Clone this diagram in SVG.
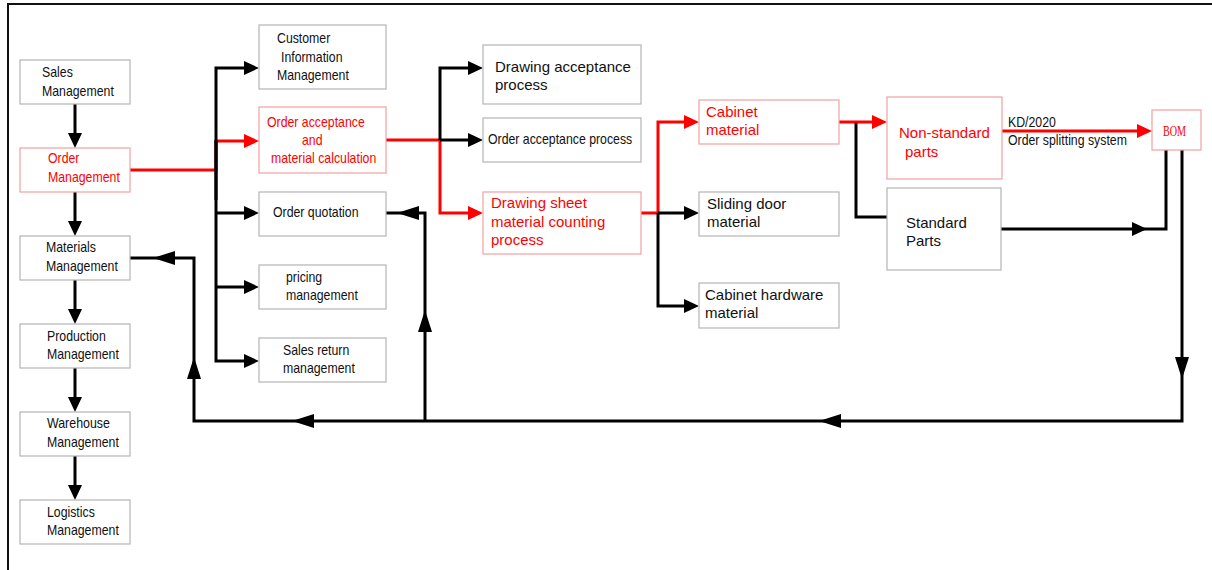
<svg xmlns="http://www.w3.org/2000/svg" width="1212" height="570" viewBox="0 0 1212 570">
<style>
  .box { fill: #ffffff; stroke: #b4b4b4; stroke-width: 1.2; }
  .rbox { fill: #ffffff; stroke: #f2a0a0; stroke-width: 1.2; }
  .c { font-family: "Liberation Sans", Arial, sans-serif; font-size: 14.5px; fill: #111; }
  .r { font-family: "Liberation Sans", Arial, sans-serif; font-size: 15px; fill: #111; }
  .red { fill: #ff0000; }
  .bom { font-family: "Liberation Serif", "Times New Roman", serif; font-size: 15px; fill: #ff0000; }
  .bl { fill: none; stroke: #000; stroke-width: 3; stroke-linejoin: miter; }
  .rl { fill: none; stroke: #ff0000; stroke-width: 3; stroke-linejoin: miter; }
  .fa { marker-end: url(#arrowK); }
  .fr { marker-end: url(#arrowR); }
  .fb { marker-end: url(#arrowB); }
</style>
<defs>
  <marker id="arrowK" markerUnits="userSpaceOnUse" markerWidth="15" markerHeight="14" refX="11" refY="7" orient="auto" viewBox="0 0 15 14">
    <path d="M0,0 L15,7 L0,14 z" fill="#000"/>
  </marker>
  <marker id="arrowR" markerUnits="userSpaceOnUse" markerWidth="15" markerHeight="14" refX="11" refY="7" orient="auto" viewBox="0 0 15 14">
    <path d="M0,0 L15,7 L0,14 z" fill="#ff0000"/>
  </marker>
  <marker id="arrowB" markerUnits="userSpaceOnUse" markerWidth="22" markerHeight="14" refX="16" refY="7" orient="auto" viewBox="0 0 22 14">
    <path d="M0,0 L22,7 L0,14 z" fill="#000"/>
  </marker>
</defs>
<rect x="0" y="0" width="1212" height="570" fill="#ffffff"/>
<!-- frame -->
<path d="M8,570 V4 H1212" fill="none" stroke="#111" stroke-width="2"/>

<g id="connectors">
  <!-- left column -->
  <path class="bl fa" d="M75,104 V144"/>
  <path class="bl fa" d="M75,192 V232"/>
  <path class="bl fa" d="M75,280 V320"/>
  <path class="bl fa" d="M75,368 V408"/>
  <path class="bl fa" d="M75,456 V496"/>
  <!-- order management fan-out -->
  <path class="rl fr" d="M130,170 H216 V141 H255"/>
  <path class="bl fa" d="M216,200 V68 H255"/>
  <path class="bl fa" d="M216,140 V361 H255"/>
  <path class="bl fa" d="M216,213 H255"/>
  <path class="bl fa" d="M216,287 H255"/>
  <!-- order acceptance fan-out -->
  <path class="rl fr" d="M386,140 H440 V213 H479"/>
  <path class="bl fa" d="M440,140 H479"/>
  <path class="bl fa" d="M440,140 V68 H479"/>
  <!-- drawing sheet fan-out -->
  <path class="rl fr" d="M641,213 H658 V122 H695"/>
  <path class="bl fa" d="M658,213 H695"/>
  <path class="bl fa" d="M658,213 V306 H695"/>
  <!-- cabinet material -->
  <path class="rl fr" d="M839,122 H883"/>
  <path class="bl" d="M856,123 V217 H887"/>
  <!-- to BOM -->
  <path class="rl fr" d="M1002,131 H1148" stroke-width="4"/>
  <path class="bl fa" d="M1001,229 H1143"/>
  <path class="bl" d="M1140,229 H1166 V150"/>
  <!-- feedback loop -->
  <path class="bl fb" d="M1182,150 V373"/>
  <path class="bl fb" d="M1182,365 V421 H825"/>
  <path class="bl fb" d="M830,421 H298"/>
  <path class="bl fb" d="M300,421 H194 V363"/>
  <path class="bl fb" d="M194,370 V258 H159"/>
  <path class="bl" d="M160,258 H130"/>
  <path class="bl fb" d="M425,421 V316"/>
  <path class="bl fb" d="M425,320 V213 H403"/>
  <path class="bl" d="M405,213 H386"/>
</g>

<g id="sales">
  <rect class="box" x="20" y="60" width="110" height="44"/>
  <text class="c" x="42" y="77" textLength="30.8" lengthAdjust="spacingAndGlyphs">Sales</text>
  <text class="c" x="42" y="96" textLength="71.8" lengthAdjust="spacingAndGlyphs">Management</text>
</g>
<g id="order-management">
  <rect class="rbox" x="20" y="148" width="110" height="44"/>
  <text class="c red" x="48" y="163" textLength="31.4" lengthAdjust="spacingAndGlyphs">Order</text>
  <text class="c red" x="48" y="182" textLength="71.8" lengthAdjust="spacingAndGlyphs">Management</text>
</g>
<g id="materials">
  <rect class="box" x="20" y="236" width="110" height="44"/>
  <text class="c" x="46" y="252" textLength="49.9" lengthAdjust="spacingAndGlyphs">Materials</text>
  <text class="c" x="46" y="271" textLength="71.8" lengthAdjust="spacingAndGlyphs">Management</text>
</g>
<g id="production">
  <rect class="box" x="20" y="324" width="110" height="44"/>
  <text class="c" x="47" y="341" textLength="58.8" lengthAdjust="spacingAndGlyphs">Production</text>
  <text class="c" x="47" y="359" textLength="71.8" lengthAdjust="spacingAndGlyphs">Management</text>
</g>
<g id="warehouse">
  <rect class="box" x="20" y="412" width="110" height="44"/>
  <text class="c" x="47" y="428" textLength="62.9" lengthAdjust="spacingAndGlyphs">Warehouse</text>
  <text class="c" x="47" y="447" textLength="71.8" lengthAdjust="spacingAndGlyphs">Management</text>
</g>
<g id="logistics">
  <rect class="box" x="20" y="500" width="110" height="44"/>
  <text class="c" x="47" y="517" textLength="47.8" lengthAdjust="spacingAndGlyphs">Logistics</text>
  <text class="c" x="47" y="535" textLength="71.8" lengthAdjust="spacingAndGlyphs">Management</text>
</g>

<g id="customer-info">
  <rect class="box" x="259" y="25" width="127" height="64"/>
  <text class="c" x="277" y="43" textLength="53.3" lengthAdjust="spacingAndGlyphs">Customer</text>
  <text class="c" x="281" y="62" textLength="61.5" lengthAdjust="spacingAndGlyphs">Information</text>
  <text class="c" x="277" y="80" textLength="71.8" lengthAdjust="spacingAndGlyphs">Management</text>
</g>
<g id="order-acceptance">
  <rect class="rbox" x="259" y="107" width="127" height="66"/>
  <text class="c red" x="267" y="127" textLength="97.8" lengthAdjust="spacingAndGlyphs">Order acceptance</text>
  <text class="c red" x="302" y="145" textLength="20.5" lengthAdjust="spacingAndGlyphs">and</text>
  <text class="c red" x="271" y="163" textLength="105.3" lengthAdjust="spacingAndGlyphs">material calculation</text>
</g>
<g id="order-quotation">
  <rect class="box" x="259" y="192" width="127" height="44"/>
  <text class="c" x="273" y="217" textLength="85.5" lengthAdjust="spacingAndGlyphs">Order quotation</text>
</g>
<g id="pricing">
  <rect class="box" x="259" y="265" width="127" height="44"/>
  <text class="c" x="286" y="282" textLength="36.2" lengthAdjust="spacingAndGlyphs">pricing</text>
  <text class="c" x="286" y="300" textLength="71.8" lengthAdjust="spacingAndGlyphs">management</text>
</g>
<g id="sales-return">
  <rect class="box" x="259" y="338" width="127" height="44"/>
  <text class="c" x="283" y="355" textLength="66.3" lengthAdjust="spacingAndGlyphs">Sales return</text>
  <text class="c" x="283" y="373" textLength="71.8" lengthAdjust="spacingAndGlyphs">management</text>
</g>

<g id="drawing-acceptance">
  <rect class="box" x="483" y="45" width="158" height="59"/>
  <text class="r" x="495" y="72">Drawing acceptance</text>
  <text class="r" x="495" y="90">process</text>
</g>
<g id="order-acceptance-process">
  <rect class="box" x="483" y="118" width="158" height="44"/>
  <text class="c" x="488" y="144" textLength="144.2" lengthAdjust="spacingAndGlyphs">Order acceptance process</text>
</g>
<g id="drawing-sheet">
  <rect class="rbox" x="483" y="192" width="158" height="62"/>
  <text class="r red" x="491" y="208">Drawing sheet</text>
  <text class="r red" x="491" y="227">material counting</text>
  <text class="r red" x="491" y="245">process</text>
</g>

<g id="cabinet-material">
  <rect class="rbox" x="699" y="100" width="140" height="44"/>
  <text class="r red" x="706" y="117">Cabinet</text>
  <text class="r red" x="706" y="135">material</text>
</g>
<g id="sliding-door">
  <rect class="box" x="699" y="192" width="140" height="44"/>
  <text class="r" x="707" y="209">Sliding door</text>
  <text class="r" x="707" y="227">material</text>
</g>
<g id="cabinet-hardware">
  <rect class="box" x="699" y="283" width="140" height="45"/>
  <text class="r" x="705" y="300">Cabinet hardware</text>
  <text class="r" x="705" y="318">material</text>
</g>

<g id="non-standard">
  <rect class="rbox" x="887" y="97" width="115" height="82"/>
  <text class="r red" x="899" y="138">Non-standard</text>
  <text class="r red" x="905" y="157">parts</text>
</g>
<g id="standard">
  <rect class="box" x="887" y="188" width="114" height="82"/>
  <text class="r" x="906" y="228">Standard</text>
  <text class="r" x="906" y="246">Parts</text>
</g>
<g id="bom">
  <rect class="rbox" x="1152" y="110" width="49" height="40"/>
  <text class="bom" x="1163" y="136" textLength="23" lengthAdjust="spacingAndGlyphs">BOM</text>
</g>
<g id="kd-label">
  <text class="c" x="1008" y="127" textLength="47.9" lengthAdjust="spacingAndGlyphs">KD/2020</text>
  <text class="c" x="1008" y="145" textLength="118.9" lengthAdjust="spacingAndGlyphs">Order splitting system</text>
</g>
</svg>
